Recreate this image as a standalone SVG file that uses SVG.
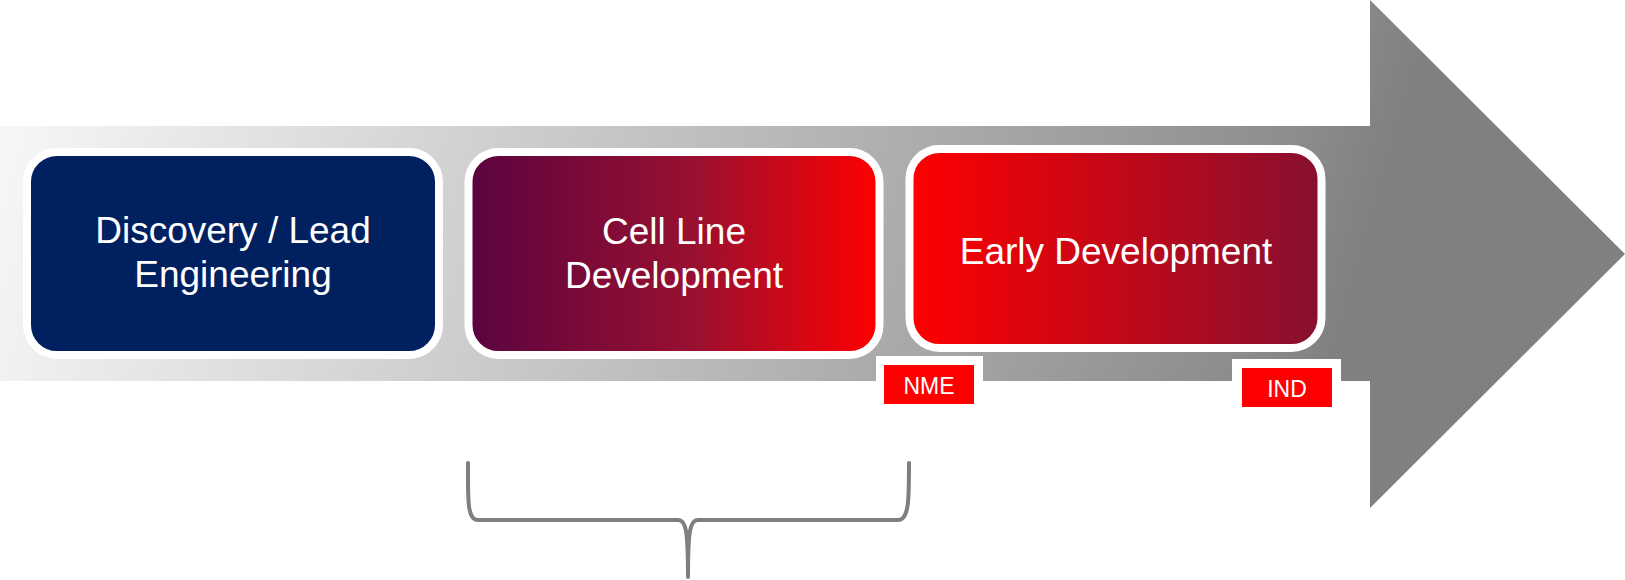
<svg xmlns="http://www.w3.org/2000/svg" width="1625" height="580" viewBox="0 0 1625 580">
<defs>
<linearGradient id="arrowGrad" gradientUnits="userSpaceOnUse" x1="0" y1="0" x2="1400" y2="400">
<stop offset="0" stop-color="#fafafa"/>
<stop offset="0.51" stop-color="#bcbcbc"/>
<stop offset="0.88" stop-color="#8d8d8d"/>
<stop offset="0.95" stop-color="#808080"/>
<stop offset="1" stop-color="#808080"/>
</linearGradient>
<linearGradient id="cellGrad" x1="0" y1="0" x2="1" y2="0">
<stop offset="0" stop-color="#5a0440"/>
<stop offset="0.55" stop-color="#991030"/>
<stop offset="1" stop-color="#ff0000"/>
</linearGradient>
<linearGradient id="earlyGrad" x1="0" y1="0" x2="1" y2="0">
<stop offset="0" stop-color="#ff0000"/>
<stop offset="1" stop-color="#861030"/>
</linearGradient>
</defs>
<style>
.box{stroke:#ffffff;stroke-width:8}
.lbl{font-family:"Liberation Sans",Arial,sans-serif;fill:#ffffff;text-anchor:middle}
.big{font-size:37px}
.small{font-size:23px}
.tag{fill:#ff0000}
.tagbg{fill:#ffffff}
.brace{fill:none;stroke:#7f7f7f;stroke-width:4;stroke-linecap:round;stroke-linejoin:round}
</style>
<g id="arrow">
<polygon points="0,126 1370,126 1370,0 1625,254 1370,508 1370,381 0,381" fill="url(#arrowGrad)"/>
</g>
<g id="node-discovery">
<rect class="box" x="27" y="152" width="412" height="203" rx="30" fill="#002060"/>
<text class="lbl big" x="233" y="243">Discovery / Lead</text>
<text class="lbl big" x="233" y="287">Engineering</text>
</g>
<g id="node-cellline">
<rect class="box" x="468.5" y="152" width="411" height="203" rx="30" fill="url(#cellGrad)"/>
<text class="lbl big" x="674" y="244">Cell Line</text>
<text class="lbl big" x="674" y="288">Development</text>
</g>
<g id="node-early">
<rect class="box" x="909.5" y="149" width="412" height="199" rx="30" fill="url(#earlyGrad)"/>
<text class="lbl big" x="1116" y="264">Early Development</text>
</g>
<g id="node-nme">
<rect class="tagbg" x="876" y="356" width="107" height="52"/>
<rect class="tag" x="884" y="365" width="90" height="39"/>
<text class="lbl small" x="929" y="394">NME</text>
</g>
<g id="node-ind">
<rect class="tagbg" x="1232" y="359" width="109" height="52"/>
<rect class="tag" x="1242" y="368" width="90" height="39"/>
<text class="lbl small" x="1287" y="397">IND</text>
</g>
<g id="connectors">
<path class="brace" d="M468,463 C468,500 467,520 478,520 L678,520 C686,520 688,530 688,577 C688,530 690,520 698,520 L898,520 C909,520 909,500 909,463"/>
</g>
</svg>
